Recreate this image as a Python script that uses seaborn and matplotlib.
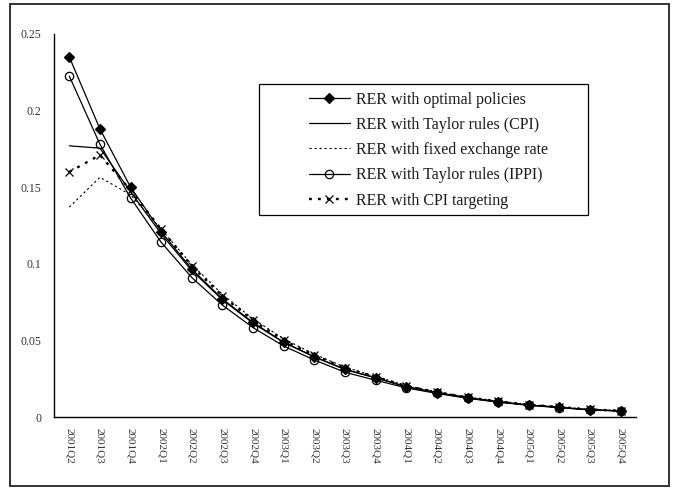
import matplotlib
matplotlib.use("Agg")
import matplotlib.pyplot as plt
import seaborn as sns
import pandas as pd
from matplotlib.patches import Rectangle

quarters = ['2001Q2', '2001Q3', '2001Q4', '2002Q1', '2002Q2', '2002Q3', '2002Q4',
            '2003Q1', '2003Q2', '2003Q3', '2003Q4', '2004Q1', '2004Q2', '2004Q3',
            '2004Q4', '2005Q1', '2005Q2', '2005Q3', '2005Q4']

optimal = [0.235, 0.188, 0.150, 0.121, 0.0965, 0.077, 0.0617, 0.0488, 0.0394, 0.0311,
           0.0257, 0.0198, 0.0159, 0.0126, 0.0100, 0.0078, 0.0063, 0.0047, 0.0040]
taylor_cpi = [0.177, 0.1755, 0.147, 0.1195, 0.0955, 0.0765, 0.0612, 0.0486, 0.0392, 0.0310,
              0.0255, 0.0197, 0.0158, 0.0125, 0.0099, 0.0078, 0.0063, 0.0047, 0.0040]
fixed_rate = [0.137, 0.1565, 0.145, 0.1225, 0.0995, 0.0800, 0.0640, 0.0510, 0.0410, 0.0325,
              0.0265, 0.0205, 0.0165, 0.0130, 0.0104, 0.0082, 0.0066, 0.0050, 0.0041]
taylor_ippi = [0.2225, 0.178, 0.143, 0.114, 0.091, 0.073, 0.0583, 0.0463, 0.0372, 0.0292,
               0.0240, 0.0190, 0.0154, 0.0122, 0.0097, 0.0076, 0.0061, 0.0046, 0.0039]
cpi_target = [0.160, 0.171, 0.148, 0.1225, 0.0985, 0.079, 0.063, 0.050, 0.0403, 0.032,
              0.0262, 0.0202, 0.0162, 0.0128, 0.0102, 0.0080, 0.0065, 0.0049, 0.0041]

labels = ['RER with optimal policies', 'RER with Taylor rules (CPI)',
          'RER with fixed exchange rate', 'RER with Taylor rules (IPPI)',
          'RER with CPI targeting']

sns.set_style("white")
plt.rcParams['font.family'] = ['Liberation Serif', 'DejaVu Serif']

W, H = 677, 488
fig = plt.figure(figsize=(W / 100, H / 100), dpi=100)
ax = fig.add_axes([54 / W, 1 - 417 / H, (636 - 54) / W, (417 - 34) / H])

x = list(range(len(quarters)))
styles = [
    dict(data=optimal, ls='-', lw=0.9, marker='D', ms=5, mfc='black'),
    dict(data=taylor_cpi, ls='-', lw=0.9, marker=None),
    dict(data=fixed_rate, ls=(0, (2, 2.5)), lw=0.8, marker=None),
    dict(data=taylor_ippi, ls='-', lw=0.9, marker='o', ms=6, mfc='none'),
    dict(data=cpi_target, ls=(0, (1.2, 2.6)), lw=1.7, marker='x', ms=6),
]

for st, lab in zip(styles, labels):
    df = pd.DataFrame({'q': x, 'v': st['data']})
    kw = dict(color='black', linestyle=st['ls'], linewidth=st['lw'], label=lab)
    if st['marker']:
        kw.update(marker=st['marker'], markersize=st['ms'],
                  markerfacecolor=st.get('mfc', 'black'),
                  markeredgecolor='black', markeredgewidth=0.9)
    sns.lineplot(data=df, x='q', y='v', ax=ax, **kw)

ax.set_xlim(-0.5, len(quarters) - 0.5)
ax.set_ylim(0, 0.25)
ax.set_yticks([0, 0.05, 0.1, 0.15, 0.2, 0.25])
ax.set_yticklabels(['0', '0.05', '0.1', '0.15', '0.2', '0.25'])
ax.set_xticks([i - 0.5 for i in range(len(quarters) + 1)])
ax.set_xticklabels([])
ax.set_xticks(x, minor=True)
ax.set_xticklabels(quarters, minor=True, rotation=-90)
ax.tick_params(axis='x', which='minor', length=0, pad=8, labelsize=8, labelcolor='#333333')
ax.tick_params(axis='x', which='major', length=5, width=1, color='black', direction='out')
ax.tick_params(axis='y', length=5, width=1, color='black', direction='out', labelsize=8.5,
               labelcolor='#333333', pad=4)
ax.set_xlabel('')
ax.set_ylabel('')
for side in ['top', 'right']:
    ax.spines[side].set_visible(False)
for side in ['left', 'bottom']:
    ax.spines[side].set_color('black')
    ax.spines[side].set_linewidth(1.0)
ax.set_facecolor('white')

# legend entries without frame; the box is drawn separately
leg = ax.legend(loc='upper left', bbox_to_anchor=(309 / W, 1 - 91.5 / H),
                bbox_transform=fig.transFigure, borderaxespad=0, borderpad=0,
                frameon=False, fontsize=11.5, handlelength=2.55,
                handletextpad=0.38, labelspacing=0.58)
for txt in leg.get_texts():
    txt.set_color('#1a1a1a')

fig.patches.append(Rectangle((259 / W, 1 - 215 / H), (588 - 259) / W, (215 - 84) / H,
                             transform=fig.transFigure, fill=False,
                             edgecolor='black', linewidth=0.9))
fig.patches.append(Rectangle((10 / W, 2 / H), 659 / W, 482 / H, transform=fig.transFigure,
                             fill=False, edgecolor='#222222', linewidth=1.3))

fig.savefig('out.png', dpi=100)
